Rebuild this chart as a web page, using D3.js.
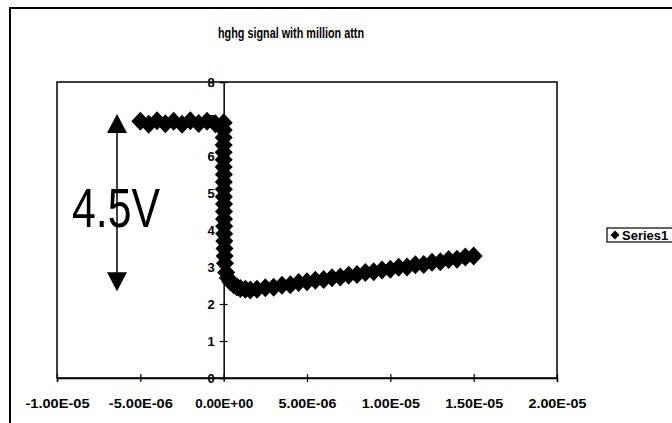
<!DOCTYPE html>
<html>
<head>
<meta charset="utf-8">
<script src="https://cdn.jsdelivr.net/npm/d3@7"></script>
<style>
  html, body { margin: 0; padding: 0; background: #fff; }
  svg { display: block; }
  text { font-family: "Liberation Sans", Arial, sans-serif; }
</style>
</head>
<body>
<svg id="chart" width="672" height="423"></svg>
<script>
// ---- data (time in seconds, signal in volts) ----
const chartTitle = "hghg signal with million attn";
const seriesName = "Series1";
const timeValues = [
  -5.0e-6, -4.5e-6, -4.0e-6, -3.5e-6, -3.0e-6, -2.5e-6, -2.0e-6, -1.5e-6, -1.0e-6, -0.5e-6, 0.0,
  0.0, 0.0, 0.0, 0.0, 0.0, 0.0, 0.01e-6, 0.01e-6, 0.01e-6, 0.01e-6, 0.02e-6, 0.02e-6, 0.02e-6, 0.03e-6, 0.03e-6, 0.04e-6, 0.05e-6, 0.06e-6, 0.08e-6,
  0.15e-6, 0.25e-6, 0.4e-6, 0.6e-6, 0.8e-6, 1.0e-6, 1.3e-6, 1.6e-6, 2.0e-6,
  2.5e-6, 3.0e-6, 3.5e-6, 4.0e-6, 4.5e-6, 5.0e-6, 5.5e-6, 6.0e-6, 6.5e-6, 7.0e-6, 7.5e-6, 8.0e-6, 8.5e-6,
  9.0e-6, 9.5e-6, 10.0e-6, 10.5e-6, 11.0e-6, 11.5e-6, 12.0e-6, 12.5e-6, 13.0e-6, 13.5e-6, 14.0e-6, 14.5e-6, 15.0e-6
];
const voltValues = [
  6.94, 6.86, 6.95, 6.87, 6.94, 6.86, 6.95, 6.88, 6.94, 6.87, 6.90,
  6.7, 6.5, 6.3, 6.1, 5.9, 5.7, 5.5, 5.3, 5.1, 4.9, 4.7, 4.5, 4.3, 4.1, 3.9, 3.7, 3.5, 3.3, 3.1,
  2.85, 2.70, 2.60, 2.52, 2.46, 2.42, 2.40, 2.38, 2.40,
  2.44, 2.45, 2.51, 2.52, 2.58, 2.60, 2.64, 2.66, 2.71, 2.73, 2.78, 2.80, 2.85,
  2.87, 2.92, 2.94, 2.99, 3.00, 3.06, 3.07, 3.13, 3.14, 3.20, 3.21, 3.27, 3.30
];
const xTicks = [-1.0e-5, -5.0e-6, 0, 5.0e-6, 1.0e-5, 1.5e-5, 2.0e-5];
const yTicks = [0, 1, 2, 3, 4, 5, 6, 7, 8];
const annotationText = "4.5V";
const annotationRange = [2.4, 7.0];   // volts spanned by the double arrow

// ---- layout ----
const svg = d3.select("#chart");
const plot = { left: 57, right: 557, top: 82, bottom: 378 };

const x = d3.scaleLinear().domain([-1.0e-5, 2.0e-5]).range([plot.left, plot.right]);
const y = d3.scaleLinear().domain([0, 8]).range([plot.bottom, plot.top]);

function excelSci(v) {
  if (v === 0) return "0.00E+00";
  const e = Math.floor(Math.log10(Math.abs(v)) + 1e-9);
  const m = v / Math.pow(10, e);
  const sign = e < 0 ? "-" : "+";
  const ee = String(Math.abs(e)).padStart(2, "0");
  return m.toFixed(2) + "E" + sign + ee;
}
function diamondPath(rx, ry) {
  return `M0,${-ry} L${rx},0 L0,${ry} L${-rx},0 Z`;
}

// outer chart border
svg.append("rect")
  .attr("x", 10).attr("y", 8).attr("width", 700).attr("height", 450)
  .attr("fill", "#fff").attr("stroke", "#000").attr("stroke-width", 2);

// title
svg.append("text")
  .attr("x", 291).attr("y", 38)
  .attr("text-anchor", "middle")
  .attr("font-size", 15).attr("font-weight", "bold")
  .attr("textLength", 146).attr("lengthAdjust", "spacingAndGlyphs")
  .text(chartTitle);

// plot area border
svg.append("rect")
  .attr("x", plot.left).attr("y", plot.top)
  .attr("width", plot.right - plot.left).attr("height", plot.bottom - plot.top)
  .attr("fill", "none").attr("stroke", "#000").attr("stroke-width", 1.5);

// x axis at y = 0
const xAxis = d3.axisBottom(x).tickValues(xTicks).tickFormat(excelSci).tickSize(4).tickPadding(17);
const gx = svg.append("g").attr("transform", `translate(0,${y(0)})`).call(xAxis);
gx.select(".domain").attr("stroke-width", 1.5);
gx.selectAll(".tick line").attr("y1", -4).attr("stroke-width", 1.2);
gx.selectAll(".tick text").attr("font-size", 13).attr("font-weight", "bold")
  .attr("font-family", "Liberation Sans, Arial, sans-serif")
  .attr("textLength", function(d) { return d < 0 ? 64 : 58; })
  .attr("lengthAdjust", "spacingAndGlyphs");

// y axis at x = 0
const yAxis = d3.axisLeft(y).tickValues(yTicks).tickFormat(d3.format("d")).tickSize(4).tickPadding(5);
const gy = svg.append("g").attr("transform", `translate(${x(0)},0)`).call(yAxis);
gy.select(".domain").attr("stroke-width", 1.5);
gy.selectAll(".tick line").attr("x1", 4).attr("stroke-width", 1.2);
gy.selectAll(".tick text").attr("font-size", 13).attr("font-weight", "bold")
  .attr("font-family", "Liberation Sans, Arial, sans-serif");

// annotation: double arrow + label
const ax = 117;
const aTop = y(annotationRange[1]) - 5, aBot = y(annotationRange[0]) + 2;
svg.append("line")
  .attr("x1", ax).attr("x2", ax).attr("y1", aTop + 16).attr("y2", aBot - 16)
  .attr("stroke", "#000").attr("stroke-width", 1.5);
svg.append("path")
  .attr("d", `M${ax},${aTop} L${ax - 10},${aTop + 19} L${ax + 10},${aTop + 19} Z`)
  .attr("fill", "#000");
svg.append("path")
  .attr("d", `M${ax},${aBot} L${ax - 10},${aBot - 19} L${ax + 10},${aBot - 19} Z`)
  .attr("fill", "#000");
svg.append("text")
  .attr("x", 72).attr("y", 227)
  .attr("font-size", 55)
  .attr("textLength", 88).attr("lengthAdjust", "spacingAndGlyphs")
  .text(annotationText);

// series markers (diamonds)
const pts = timeValues.map((t, i) => [t, voltValues[i]]);
svg.append("g").selectAll("path")
  .data(pts).join("path")
  .attr("transform", d => `translate(${x(d[0])},${y(d[1])})`)
  .attr("d", diamondPath(9, 9.5))
  .attr("fill", "#000");

// legend
const lg = svg.append("g");
lg.append("rect").attr("x", 607).attr("y", 228).attr("width", 80).attr("height", 14)
  .attr("fill", "#fff").attr("stroke", "#000").attr("stroke-width", 1.2);
lg.append("path").attr("transform", "translate(615,235)")
  .attr("d", diamondPath(4.5, 4.5)).attr("fill", "#000");
lg.append("text").attr("x", 622).attr("y", 240)
  .attr("font-size", 13).attr("font-weight", "bold").text(seriesName);
</script>
</body>
</html>
